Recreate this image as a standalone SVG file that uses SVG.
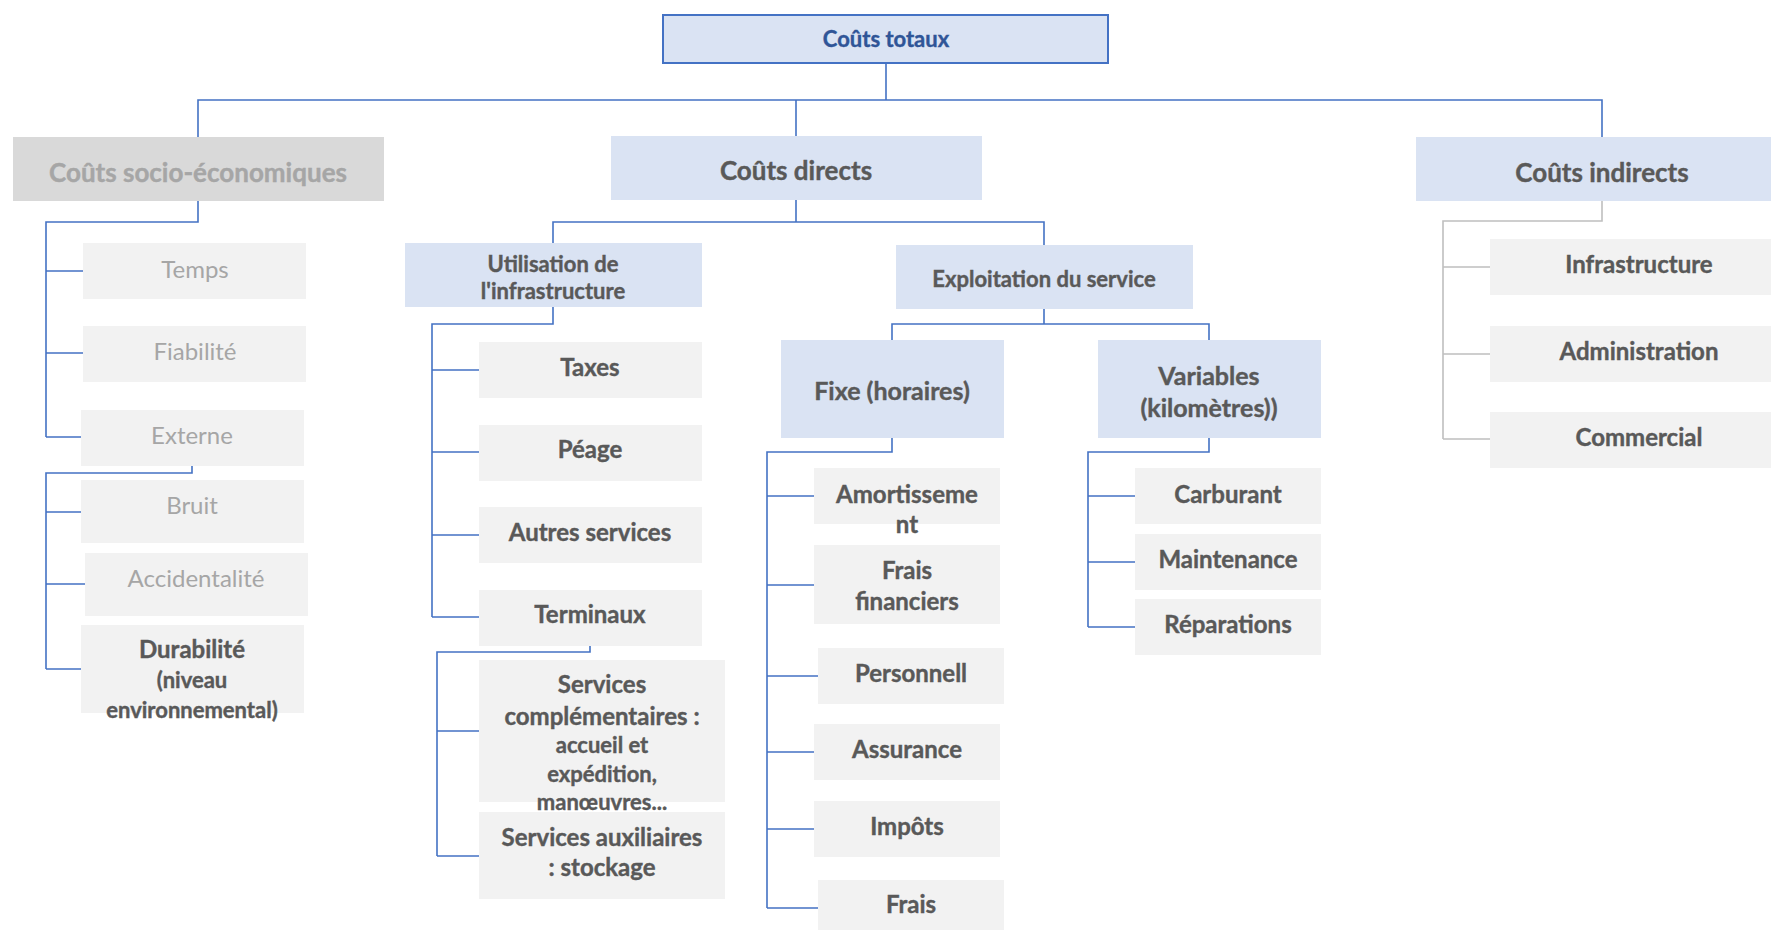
<svg xmlns="http://www.w3.org/2000/svg" width="1771" height="930" viewBox="0 0 1771 930">
<style>
text{font-family:Lato,"Liberation Sans",sans-serif;text-anchor:middle;font-weight:bold;fill:#595959;stroke:#595959;stroke-width:0.4}
.blue{fill:#dae3f3}
.grey{fill:#d9d9d9}
.leaf{fill:#f2f2f2}
.t0{font-size:22px;fill:#2f5597;stroke:#2f5597}
.t1{font-size:26px}
.t2{font-size:22px}
.t3{font-size:25px}
.t4{font-size:24px}
.t5{font-size:22px}
.soc{fill:#a6a6a6;stroke:#a6a6a6}
.reg{font-weight:normal;stroke-width:0}
.c{fill:none;stroke:#4472c4;stroke-width:1.6}
.g{fill:none;stroke:#bfbfbf;stroke-width:1.6}
</style>
<g id="connectors">
<path class="c" d="M886,63V100M198,137V100H1602V137M796,100V136"/>
<path class="c" d="M796,200V222M553,243V222H1044V245"/>
<path class="c" d="M198,201V222H46V437M46,271H83M46,353H83M46,437H81"/>
<path class="c" d="M192,466V473H46V669M46,512H81M46,584H85M46,669H81"/>
<path class="c" d="M553,307V324H432V617M432,370H479M432,452H479M432,535H479M432,617H479"/>
<path class="c" d="M590,646V652H437V856M437,731H479M437,856H479"/>
<path class="c" d="M1044,309V324M892,340V324H1209V340"/>
<path class="c" d="M892,438V452H767V908M767,496H814M767,585H814M767,676H818M767,752H814M767,829H814M767,908H818"/>
<path class="c" d="M1209,438V452H1088V627M1088,496H1135M1088,562H1135M1088,627H1135"/>
<path class="g" d="M1602,201V221H1443V439M1443,267H1490M1443,354H1490M1443,439H1490"/>
</g>
<g id="totaux"><rect x="663" y="15" width="445" height="48" class="blue" stroke="#4472c4" stroke-width="2"/><text x="886" y="47" class="t0">Coûts totaux</text></g>
<g id="socio"><rect x="13" y="137" width="371" height="64" class="grey"/><text x="198" y="182" class="t1 soc">Coûts socio-économiques</text></g>
<g id="directs"><rect x="611" y="136" width="371" height="64" class="blue"/><text x="796" y="180" class="t1">Coûts directs</text></g>
<g id="indirects"><rect x="1416" y="137" width="372" height="64" class="blue"/><text x="1602" y="182" class="t1">Coûts indirects</text></g>
<g id="temps"><rect x="83" y="243" width="223" height="56" class="leaf"/><text x="195" y="278" class="t4 soc reg">Temps</text></g>
<g id="fiabilite"><rect x="83" y="326" width="223" height="56" class="leaf"/><text x="195" y="360" class="t4 soc reg">Fiabilité</text></g>
<g id="externe"><rect x="81" y="410" width="223" height="56" class="leaf"/><text x="192" y="444" class="t4 soc reg">Externe</text></g>
<g id="bruit"><rect x="81" y="480" width="223" height="63" class="leaf"/><text x="192" y="514" class="t4 soc reg">Bruit</text></g>
<g id="accidentalite"><rect x="85" y="553" width="223" height="63" class="leaf"/><text x="196" y="587" class="t4 soc reg">Accidentalité</text></g>
<g id="durabilite"><rect x="81" y="625" width="223" height="88" class="leaf"/><text x="192" y="658" class="t4">Durabilité</text><text x="192" y="688" class="t5">(niveau</text><text x="192" y="718" class="t5">environnemental)</text></g>
<g id="utilisation"><rect x="405" y="243" width="297" height="64" class="blue"/><text x="553" y="272" class="t2">Utilisation de</text><text x="553" y="299" class="t2">l'infrastructure</text></g>
<g id="taxes"><rect x="479" y="342" width="223" height="56" class="leaf"/><text x="590" y="376" class="t4">Taxes</text></g>
<g id="peage"><rect x="479" y="425" width="223" height="56" class="leaf"/><text x="590" y="458" class="t4">Péage</text></g>
<g id="autres"><rect x="479" y="507" width="223" height="56" class="leaf"/><text x="590" y="541" class="t4">Autres services</text></g>
<g id="terminaux"><rect x="479" y="590" width="223" height="56" class="leaf"/><text x="590" y="623" class="t4">Terminaux</text></g>
<g id="complementaires"><rect x="479" y="660" width="246" height="142" class="leaf"/><text x="602" y="693" class="t4">Services</text><text x="602" y="725" class="t4">complémentaires :</text><text x="602" y="753" class="t5">accueil et</text><text x="602" y="782" class="t5">expédition,</text><text x="602" y="810" class="t5">manœuvres...</text></g>
<g id="auxiliaires"><rect x="479" y="812" width="246" height="87" class="leaf"/><text x="602" y="846" class="t4">Services auxiliaires</text><text x="602" y="876" class="t4">: stockage</text></g>
<g id="exploitation"><rect x="896" y="245" width="297" height="64" class="blue"/><text x="1044" y="287" class="t2">Exploitation du service</text></g>
<g id="fixe"><rect x="781" y="340" width="223" height="98" class="blue"/><text x="892" y="400" class="t3">Fixe (horaires)</text></g>
<g id="variables"><rect x="1098" y="340" width="223" height="98" class="blue"/><text x="1209" y="385" class="t3">Variables</text><text x="1209" y="417" class="t3">(kilomètres))</text></g>
<g id="amortissement"><rect x="814" y="468" width="186" height="56" class="leaf"/><text x="907" y="503" class="t4">Amortisseme</text><text x="907" y="533" class="t4">nt</text></g>
<g id="financiers"><rect x="814" y="545" width="186" height="79" class="leaf"/><text x="907" y="579" class="t4">Frais</text><text x="907" y="610" class="t4">financiers</text></g>
<g id="personnell"><rect x="818" y="648" width="186" height="56" class="leaf"/><text x="911" y="682" class="t4">Personnell</text></g>
<g id="assurance"><rect x="814" y="724" width="186" height="56" class="leaf"/><text x="907" y="758" class="t4">Assurance</text></g>
<g id="impots"><rect x="814" y="801" width="186" height="56" class="leaf"/><text x="907" y="835" class="t4">Impôts</text></g>
<g id="frais"><rect x="818" y="880" width="186" height="50" class="leaf"/><text x="911" y="913" class="t4">Frais</text></g>
<g id="carburant"><rect x="1135" y="468" width="186" height="56" class="leaf"/><text x="1228" y="503" class="t4">Carburant</text></g>
<g id="maintenance"><rect x="1135" y="534" width="186" height="56" class="leaf"/><text x="1228" y="568" class="t4">Maintenance</text></g>
<g id="reparations"><rect x="1135" y="599" width="186" height="56" class="leaf"/><text x="1228" y="633" class="t4">Réparations</text></g>
<g id="infrastructure"><rect x="1490" y="239" width="298" height="56" class="leaf"/><text x="1639" y="273" class="t4">Infrastructure</text></g>
<g id="administration"><rect x="1490" y="326" width="298" height="56" class="leaf"/><text x="1639" y="360" class="t4">Administration</text></g>
<g id="commercial"><rect x="1490" y="412" width="298" height="56" class="leaf"/><text x="1639" y="446" class="t4">Commercial</text></g>
</svg>
